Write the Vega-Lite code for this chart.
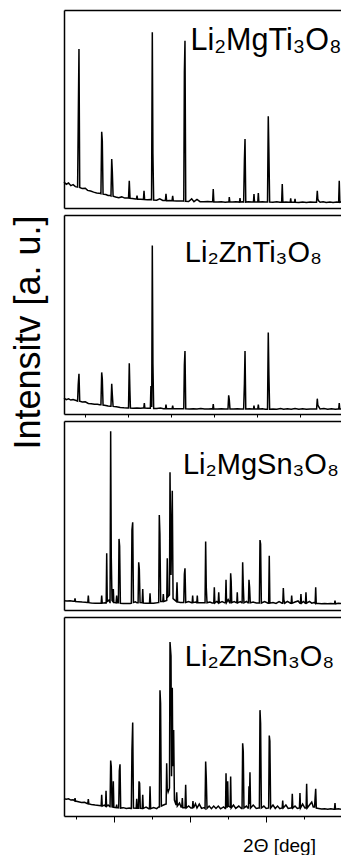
{
"$schema":"https://vega.github.io/schema/vega-lite/v6.json",
"background":"white",
"padding":{"left":9,"top":10,"right":0,"bottom":0},
"bounds":"flush",
"config":{"view":{"stroke":null},"axis":{"grid":false,"labels":false,"ticks":false,"domain":true,"domainColor":"black","domainWidth":1.5,"tickColor":"black","tickWidth":1,"titleFont":"Liberation Sans","titleColor":"black","titleFontWeight":"normal"}},
"datasets":{
"lab":[{"p":1,"label":"Li₂MgTi₃O₈","x":30.05,"y":79.8},{"p":2,"label":"Li₂ZnTi₃O₈","x":29.3,"y":76.4},{"p":3,"label":"Li₂MgSn₃O₈","x":29.05,"y":72},{"p":4,"label":"Li₂ZnSn₃O₈","x":29.3,"y":75.4}],
"xrd":[
{"p":1,"x":13.4,"y":13.1},{"p":1,"x":13.7,"y":12.0},{"p":1,"x":14.0,"y":12.6},{"p":1,"x":14.3,"y":11.3},{"p":1,"x":14.6,"y":11.8},{"p":1,"x":14.9,"y":10.8},{"p":1,"x":15.19,"y":10.6},{"p":1,"x":15.27,"y":41.4},{"p":1,"x":15.37,"y":80.3},{"p":1,"x":15.47,"y":10.4},{"p":1,"x":15.8,"y":9.8},{"p":1,"x":16.2,"y":10.0},{"p":1,"x":16.5,"y":8.9},{"p":1,"x":16.9,"y":8.6},{"p":1,"x":17.3,"y":8.0},{"p":1,"x":17.7,"y":7.6},{"p":1,"x":18.0,"y":7.5},{"p":1,"x":18.26,"y":7.2},{"p":1,"x":18.36,"y":38.5},{"p":1,"x":18.44,"y":34},{"p":1,"x":18.54,"y":7.0},{"p":1,"x":18.9,"y":6.8},{"p":1,"x":19.2,"y":6.3},{"p":1,"x":19.5,"y":6.3},{"p":1,"x":19.58,"y":6.1},{"p":1,"x":19.68,"y":24.7},{"p":1,"x":19.76,"y":18.2},{"p":1,"x":19.86,"y":6.0},{"p":1,"x":20.2,"y":5.6},{"p":1,"x":20.6,"y":5.2},{"p":1,"x":21.0,"y":5.6},{"p":1,"x":21.4,"y":5.0},{"p":1,"x":21.8,"y":5.1},{"p":1,"x":21.89,"y":5.0},{"p":1,"x":21.99,"y":13.8},{"p":1,"x":22.09,"y":4.9},{"p":1,"x":22.4,"y":4.8},{"p":1,"x":22.8,"y":4.5},{"p":1,"x":22.93,"y":4.5},{"p":1,"x":23.01,"y":6.2},{"p":1,"x":23.09,"y":4.4},{"p":1,"x":23.5,"y":4.4},{"p":1,"x":23.85,"y":4.3},{"p":1,"x":23.93,"y":8.7},{"p":1,"x":24.01,"y":4.3},{"p":1,"x":24.4,"y":4.2},{"p":1,"x":24.8,"y":4.3},{"p":1,"x":24.92,"y":4.2},{"p":1,"x":25.02,"y":88.7},{"p":1,"x":25.1,"y":27.3},{"p":1,"x":25.2,"y":4.0},{"p":1,"x":25.6,"y":3.9},{"p":1,"x":26.0,"y":4.6},{"p":1,"x":26.4,"y":3.8},{"p":1,"x":26.74,"y":3.8},{"p":1,"x":26.82,"y":7.1},{"p":1,"x":26.9,"y":3.7},{"p":1,"x":27.3,"y":3.8},{"p":1,"x":27.62,"y":3.7},{"p":1,"x":27.7,"y":6.2},{"p":1,"x":27.78,"y":3.6},{"p":1,"x":28.2,"y":3.5},{"p":1,"x":28.7,"y":3.5},{"p":1,"x":29.1,"y":3.6},{"p":1,"x":29.16,"y":3.5},{"p":1,"x":29.24,"y":68.5},{"p":1,"x":29.32,"y":84.5},{"p":1,"x":29.42,"y":3.4},{"p":1,"x":29.8,"y":3.3},{"p":1,"x":30.2,"y":4.6},{"p":1,"x":30.5,"y":3.2},{"p":1,"x":30.9,"y":4.3},{"p":1,"x":31.3,"y":3.2},{"p":1,"x":31.8,"y":3.2},{"p":1,"x":32.3,"y":3.3},{"p":1,"x":32.7,"y":3.1},{"p":1,"x":32.96,"y":3.1},{"p":1,"x":33.04,"y":9.6},{"p":1,"x":33.12,"y":3.0},{"p":1,"x":33.6,"y":3.0},{"p":1,"x":34.1,"y":3.1},{"p":1,"x":34.6,"y":2.9},{"p":1,"x":35.0,"y":3.0},{"p":1,"x":35.1,"y":3.0},{"p":1,"x":35.15,"y":5.5},{"p":1,"x":35.22,"y":3.0},{"p":1,"x":35.6,"y":3.0},{"p":1,"x":36.0,"y":3.2},{"p":1,"x":36.5,"y":3.0},{"p":1,"x":36.56,"y":5.0},{"p":1,"x":36.62,"y":3.0},{"p":1,"x":36.9,"y":3.1},{"p":1,"x":37.04,"y":3.0},{"p":1,"x":37.14,"y":24.2},{"p":1,"x":37.22,"y":34.8},{"p":1,"x":37.32,"y":3.0},{"p":1,"x":37.7,"y":3.2},{"p":1,"x":38.1,"y":3.0},{"p":1,"x":38.33,"y":3.0},{"p":1,"x":38.4,"y":7.1},{"p":1,"x":38.47,"y":3.0},{"p":1,"x":38.9,"y":3.0},{"p":1,"x":38.97,"y":7.6},{"p":1,"x":39.04,"y":3.0},{"p":1,"x":39.5,"y":3.1},{"p":1,"x":39.9,"y":3.0},{"p":1,"x":40.18,"y":3.0},{"p":1,"x":40.28,"y":46.3},{"p":1,"x":40.36,"y":28.6},{"p":1,"x":40.46,"y":3.0},{"p":1,"x":40.9,"y":2.9},{"p":1,"x":41.4,"y":3.1},{"p":1,"x":41.8,"y":2.9},{"p":1,"x":42.04,"y":2.9},{"p":1,"x":42.12,"y":12.1},{"p":1,"x":42.2,"y":2.9},{"p":1,"x":42.6,"y":3.0},{"p":1,"x":43.0,"y":2.9},{"p":1,"x":43.17,"y":2.9},{"p":1,"x":43.23,"y":4.9},{"p":1,"x":43.29,"y":2.9},{"p":1,"x":43.74,"y":2.9},{"p":1,"x":43.8,"y":4.6},{"p":1,"x":43.86,"y":2.9},{"p":1,"x":44.3,"y":2.8},{"p":1,"x":44.8,"y":3.0},{"p":1,"x":45.3,"y":2.8},{"p":1,"x":45.8,"y":3.0},{"p":1,"x":46.3,"y":2.9},{"p":1,"x":46.63,"y":2.9},{"p":1,"x":46.73,"y":8.7},{"p":1,"x":46.8,"y":4.5},{"p":1,"x":46.9,"y":3.6},{"p":1,"x":47.1,"y":2.9},{"p":1,"x":47.5,"y":3.2},{"p":1,"x":47.9,"y":2.8},{"p":1,"x":48.4,"y":3.0},{"p":1,"x":48.8,"y":2.8},{"p":1,"x":49.3,"y":3.0},{"p":1,"x":49.54,"y":2.9},{"p":1,"x":49.62,"y":13.8},{"p":1,"x":49.7,"y":2.9},{"p":1,"x":49.85,"y":3.0},
{"p":2,"x":13.4,"y":8.0},{"p":2,"x":13.7,"y":7.2},{"p":2,"x":14.0,"y":7.6},{"p":2,"x":14.3,"y":7.0},{"p":2,"x":14.6,"y":7.3},{"p":2,"x":15.0,"y":6.8},{"p":2,"x":15.19,"y":6.5},{"p":2,"x":15.27,"y":14.7},{"p":2,"x":15.37,"y":20.2},{"p":2,"x":15.47,"y":6.4},{"p":2,"x":15.8,"y":6.0},{"p":2,"x":16.2,"y":6.1},{"p":2,"x":16.6,"y":5.3},{"p":2,"x":17.0,"y":5.2},{"p":2,"x":17.4,"y":4.9},{"p":2,"x":17.8,"y":4.9},{"p":2,"x":18.1,"y":4.6},{"p":2,"x":18.26,"y":4.6},{"p":2,"x":18.36,"y":20.9},{"p":2,"x":18.44,"y":17.7},{"p":2,"x":18.54,"y":4.5},{"p":2,"x":18.9,"y":4.3},{"p":2,"x":19.2,"y":4.0},{"p":2,"x":19.5,"y":3.9},{"p":2,"x":19.58,"y":3.9},{"p":2,"x":19.68,"y":15.2},{"p":2,"x":19.76,"y":9.7},{"p":2,"x":19.86,"y":3.8},{"p":2,"x":20.3,"y":3.6},{"p":2,"x":20.8,"y":3.3},{"p":2,"x":21.3,"y":3.1},{"p":2,"x":21.7,"y":3.0},{"p":2,"x":21.89,"y":3.0},{"p":2,"x":21.99,"y":25.5},{"p":2,"x":22.07,"y":12},{"p":2,"x":22.14,"y":3.0},{"p":2,"x":22.5,"y":2.9},{"p":2,"x":23.0,"y":3.0},{"p":2,"x":23.5,"y":2.9},{"p":2,"x":23.8,"y":3.0},{"p":2,"x":23.9,"y":3.0},{"p":2,"x":23.97,"y":5.5},{"p":2,"x":24.04,"y":3.0},{"p":2,"x":24.4,"y":2.9},{"p":2,"x":24.7,"y":2.9},{"p":2,"x":24.76,"y":2.9},{"p":2,"x":24.84,"y":14.0},{"p":2,"x":24.94,"y":3.5},{"p":2,"x":25.02,"y":84.7},{"p":2,"x":25.1,"y":25.5},{"p":2,"x":25.2,"y":2.8},{"p":2,"x":25.6,"y":2.8},{"p":2,"x":26.1,"y":3.0},{"p":2,"x":26.5,"y":2.7},{"p":2,"x":26.75,"y":2.7},{"p":2,"x":26.82,"y":4.7},{"p":2,"x":26.89,"y":2.7},{"p":2,"x":27.63,"y":2.7},{"p":2,"x":27.7,"y":4.2},{"p":2,"x":27.77,"y":2.7},{"p":2,"x":28.2,"y":2.6},{"p":2,"x":28.7,"y":2.6},{"p":2,"x":29.1,"y":2.6},{"p":2,"x":29.16,"y":2.6},{"p":2,"x":29.24,"y":24.7},{"p":2,"x":29.32,"y":31.7},{"p":2,"x":29.42,"y":2.6},{"p":2,"x":29.9,"y":2.5},{"p":2,"x":30.4,"y":2.6},{"p":2,"x":30.9,"y":2.5},{"p":2,"x":31.4,"y":2.7},{"p":2,"x":31.9,"y":2.5},{"p":2,"x":32.4,"y":2.5},{"p":2,"x":32.8,"y":2.6},{"p":2,"x":32.97,"y":2.5},{"p":2,"x":33.04,"y":5.0},{"p":2,"x":33.11,"y":2.5},{"p":2,"x":33.6,"y":2.5},{"p":2,"x":34.1,"y":2.6},{"p":2,"x":34.6,"y":2.5},{"p":2,"x":34.9,"y":2.5},{"p":2,"x":34.98,"y":2.5},{"p":2,"x":35.07,"y":9.4},{"p":2,"x":35.15,"y":7.2},{"p":2,"x":35.24,"y":2.5},{"p":2,"x":35.7,"y":2.5},{"p":2,"x":36.2,"y":2.6},{"p":2,"x":36.7,"y":2.5},{"p":2,"x":36.95,"y":2.5},{"p":2,"x":37.04,"y":2.5},{"p":2,"x":37.14,"y":15.2},{"p":2,"x":37.22,"y":31.7},{"p":2,"x":37.32,"y":2.5},{"p":2,"x":37.8,"y":2.6},{"p":2,"x":38.2,"y":2.5},{"p":2,"x":38.34,"y":2.5},{"p":2,"x":38.4,"y":4.2},{"p":2,"x":38.46,"y":2.5},{"p":2,"x":38.9,"y":2.5},{"p":2,"x":38.97,"y":4.7},{"p":2,"x":39.04,"y":2.5},{"p":2,"x":39.5,"y":2.6},{"p":2,"x":39.9,"y":2.4},{"p":2,"x":40.18,"y":2.4},{"p":2,"x":40.28,"y":40.9},{"p":2,"x":40.36,"y":20.0},{"p":2,"x":40.46,"y":2.4},{"p":2,"x":40.9,"y":2.5},{"p":2,"x":41.4,"y":2.4},{"p":2,"x":41.9,"y":2.8},{"p":2,"x":42.3,"y":2.4},{"p":2,"x":42.8,"y":2.6},{"p":2,"x":43.3,"y":2.4},{"p":2,"x":43.8,"y":2.8},{"p":2,"x":44.3,"y":2.4},{"p":2,"x":44.8,"y":2.6},{"p":2,"x":45.3,"y":2.4},{"p":2,"x":45.8,"y":2.5},{"p":2,"x":46.3,"y":2.5},{"p":2,"x":46.64,"y":2.5},{"p":2,"x":46.73,"y":7.7},{"p":2,"x":46.8,"y":4.5},{"p":2,"x":46.95,"y":3.5},{"p":2,"x":47.1,"y":2.5},{"p":2,"x":47.6,"y":2.7},{"p":2,"x":48.1,"y":2.4},{"p":2,"x":48.6,"y":2.6},{"p":2,"x":49.1,"y":2.4},{"p":2,"x":49.45,"y":2.5},{"p":2,"x":49.55,"y":2.5},{"p":2,"x":49.62,"y":5.5},{"p":2,"x":49.69,"y":2.5},{"p":2,"x":49.85,"y":2.5},
{"p":3,"x":13.4,"y":4.9},{"p":3,"x":13.8,"y":4.7},{"p":3,"x":14.2,"y":4.9},{"p":3,"x":14.6,"y":4.6},{"p":3,"x":14.78,"y":4.6},{"p":3,"x":14.85,"y":6.2},{"p":3,"x":14.92,"y":4.5},{"p":3,"x":15.3,"y":4.4},{"p":3,"x":15.8,"y":4.2},{"p":3,"x":16.2,"y":4.1},{"p":3,"x":16.45,"y":4.0},{"p":3,"x":16.53,"y":4.0},{"p":3,"x":16.6,"y":7.6},{"p":3,"x":16.67,"y":3.9},{"p":3,"x":17.0,"y":3.7},{"p":3,"x":17.5,"y":3.6},{"p":3,"x":18.0,"y":3.6},{"p":3,"x":18.25,"y":3.6},{"p":3,"x":18.29,"y":3.6},{"p":3,"x":18.36,"y":7.6},{"p":3,"x":18.43,"y":3.6},{"p":3,"x":18.8,"y":3.8},{"p":3,"x":18.93,"y":3.6},{"p":3,"x":18.95,"y":3.7},{"p":3,"x":19.02,"y":30.0},{"p":3,"x":19.09,"y":4.5},{"p":3,"x":19.3,"y":5.2},{"p":3,"x":19.45,"y":4.0},{"p":3,"x":19.46,"y":4.0},{"p":3,"x":19.54,"y":94.6},{"p":3,"x":19.62,"y":27.9},{"p":3,"x":19.72,"y":5.0},{"p":3,"x":19.82,"y":4.5},{"p":3,"x":19.89,"y":11.1},{"p":3,"x":19.96,"y":4.0},{"p":3,"x":20.25,"y":3.8},{"p":3,"x":20.33,"y":7.6},{"p":3,"x":20.4,"y":3.8},{"p":3,"x":20.56,"y":3.8},{"p":3,"x":20.64,"y":37.6},{"p":3,"x":20.72,"y":33.7},{"p":3,"x":20.82,"y":3.6},{"p":3,"x":21.2,"y":3.5},{"p":3,"x":21.7,"y":3.5},{"p":3,"x":22.1,"y":3.5},{"p":3,"x":22.26,"y":3.6},{"p":3,"x":22.34,"y":42.3},{"p":3,"x":22.44,"y":46.4},{"p":3,"x":22.54,"y":4.0},{"p":3,"x":22.8,"y":4.3},{"p":3,"x":23.0,"y":3.8},{"p":3,"x":23.15,"y":3.8},{"p":3,"x":23.23,"y":25.2},{"p":3,"x":23.31,"y":21.7},{"p":3,"x":23.41,"y":4.0},{"p":3,"x":23.69,"y":3.9},{"p":3,"x":23.76,"y":11.1},{"p":3,"x":23.83,"y":3.7},{"p":3,"x":24.2,"y":3.6},{"p":3,"x":24.55,"y":3.6},{"p":3,"x":24.65,"y":3.6},{"p":3,"x":24.72,"y":8.8},{"p":3,"x":24.79,"y":3.6},{"p":3,"x":25.2,"y":3.6},{"p":3,"x":25.6,"y":3.8},{"p":3,"x":25.8,"y":4.0},{"p":3,"x":25.86,"y":4.0},{"p":3,"x":25.94,"y":50.3},{"p":3,"x":26.02,"y":40.2},{"p":3,"x":26.12,"y":4.5},{"p":3,"x":26.4,"y":4.5},{"p":3,"x":26.47,"y":8.5},{"p":3,"x":26.54,"y":4.5},{"p":3,"x":26.92,"y":5.0},{"p":3,"x":26.99,"y":27.4},{"p":3,"x":27.07,"y":7.0},{"p":3,"x":27.28,"y":8.0},{"p":3,"x":27.35,"y":72.9},{"p":3,"x":27.48,"y":18.5},{"p":3,"x":27.65,"y":63.1},{"p":3,"x":27.75,"y":6.0},{"p":3,"x":28.18,"y":4.5},{"p":3,"x":28.27,"y":14.7},{"p":3,"x":28.35,"y":4.3},{"p":3,"x":28.7,"y":4.0},{"p":3,"x":29.1,"y":4.0},{"p":3,"x":29.16,"y":4.0},{"p":3,"x":29.24,"y":19.0},{"p":3,"x":29.32,"y":22.1},{"p":3,"x":29.42,"y":4.0},{"p":3,"x":29.8,"y":4.5},{"p":3,"x":30.2,"y":3.9},{"p":3,"x":30.27,"y":3.9},{"p":3,"x":30.33,"y":7.6},{"p":3,"x":30.39,"y":3.9},{"p":3,"x":30.7,"y":4.2},{"p":3,"x":30.85,"y":3.9},{"p":3,"x":30.88,"y":3.9},{"p":3,"x":30.94,"y":7.6},{"p":3,"x":31.0,"y":3.9},{"p":3,"x":31.4,"y":3.8},{"p":3,"x":31.85,"y":3.8},{"p":3,"x":31.96,"y":3.8},{"p":3,"x":32.04,"y":36.3},{"p":3,"x":32.12,"y":12.0},{"p":3,"x":32.22,"y":3.8},{"p":3,"x":32.6,"y":4.2},{"p":3,"x":32.9,"y":3.7},{"p":3,"x":33.11,"y":3.7},{"p":3,"x":33.18,"y":12.0},{"p":3,"x":33.25,"y":3.7},{"p":3,"x":33.5,"y":4.5},{"p":3,"x":33.69,"y":3.8},{"p":3,"x":33.76,"y":9.4},{"p":3,"x":33.83,"y":3.8},{"p":3,"x":34.2,"y":4.5},{"p":3,"x":34.55,"y":3.8},{"p":3,"x":34.65,"y":3.8},{"p":3,"x":34.72,"y":16.0},{"p":3,"x":34.79,"y":4.0},{"p":3,"x":35.0,"y":5.5},{"p":3,"x":35.2,"y":3.9},{"p":3,"x":35.26,"y":3.9},{"p":3,"x":35.33,"y":19.4},{"p":3,"x":35.4,"y":15.0},{"p":3,"x":35.47,"y":3.9},{"p":3,"x":35.8,"y":4.5},{"p":3,"x":36.1,"y":3.8},{"p":3,"x":36.14,"y":3.8},{"p":3,"x":36.2,"y":9.4},{"p":3,"x":36.26,"y":3.8},{"p":3,"x":36.6,"y":4.4},{"p":3,"x":36.8,"y":3.8},{"p":3,"x":36.84,"y":3.8},{"p":3,"x":36.91,"y":25.2},{"p":3,"x":36.99,"y":12.9},{"p":3,"x":37.08,"y":3.8},{"p":3,"x":37.4,"y":4.5},{"p":3,"x":37.6,"y":3.8},{"p":3,"x":37.67,"y":3.8},{"p":3,"x":37.74,"y":16.0},{"p":3,"x":37.82,"y":12.0},{"p":3,"x":37.91,"y":3.8},{"p":3,"x":38.3,"y":4.2},{"p":3,"x":38.7,"y":3.7},{"p":3,"x":39.0,"y":3.7},{"p":3,"x":39.11,"y":3.7},{"p":3,"x":39.19,"y":37.0},{"p":3,"x":39.27,"y":34.9},{"p":3,"x":39.37,"y":3.7},{"p":3,"x":39.8,"y":4.5},{"p":3,"x":40.25,"y":3.6},{"p":3,"x":40.33,"y":3.6},{"p":3,"x":40.41,"y":28.7},{"p":3,"x":40.49,"y":3.6},{"p":3,"x":40.9,"y":3.9},{"p":3,"x":41.3,"y":3.5},{"p":3,"x":41.7,"y":4.4},{"p":3,"x":42.1,"y":3.6},{"p":3,"x":42.19,"y":3.6},{"p":3,"x":42.26,"y":11.6},{"p":3,"x":42.33,"y":5.5},{"p":3,"x":42.45,"y":3.6},{"p":3,"x":42.8,"y":4.6},{"p":3,"x":43.2,"y":3.6},{"p":3,"x":43.29,"y":3.6},{"p":3,"x":43.36,"y":7.6},{"p":3,"x":43.43,"y":3.6},{"p":3,"x":43.8,"y":4.2},{"p":3,"x":44.2,"y":4.8},{"p":3,"x":44.45,"y":3.6},{"p":3,"x":44.51,"y":3.6},{"p":3,"x":44.58,"y":8.5},{"p":3,"x":44.65,"y":3.6},{"p":3,"x":44.9,"y":4.5},{"p":3,"x":45.15,"y":3.6},{"p":3,"x":45.17,"y":3.6},{"p":3,"x":45.24,"y":9.4},{"p":3,"x":45.31,"y":3.6},{"p":3,"x":45.7,"y":4.6},{"p":3,"x":46.0,"y":3.6},{"p":3,"x":46.35,"y":4.0},{"p":3,"x":46.45,"y":3.6},{"p":3,"x":46.52,"y":12.0},{"p":3,"x":46.59,"y":3.6},{"p":3,"x":46.9,"y":3.5},{"p":3,"x":47.3,"y":3.3},{"p":3,"x":47.7,"y":3.4},{"p":3,"x":48.1,"y":3.3},{"p":3,"x":48.5,"y":3.5},{"p":3,"x":48.9,"y":3.3},{"p":3,"x":48.99,"y":3.3},{"p":3,"x":49.06,"y":5.0},{"p":3,"x":49.13,"y":3.3},{"p":3,"x":49.5,"y":3.6},{"p":3,"x":49.85,"y":3.4},
{"p":4,"x":13.4,"y":8.7},{"p":4,"x":13.7,"y":8.4},{"p":4,"x":14.0,"y":8.6},{"p":4,"x":14.3,"y":8.0},{"p":4,"x":14.6,"y":8.2},{"p":4,"x":14.8,"y":7.6},{"p":4,"x":14.85,"y":9.0},{"p":4,"x":14.92,"y":7.5},{"p":4,"x":15.3,"y":7.2},{"p":4,"x":15.7,"y":6.8},{"p":4,"x":16.1,"y":6.9},{"p":4,"x":16.45,"y":6.3},{"p":4,"x":16.53,"y":6.2},{"p":4,"x":16.6,"y":8.5},{"p":4,"x":16.67,"y":6.1},{"p":4,"x":17.0,"y":5.8},{"p":4,"x":17.5,"y":5.5},{"p":4,"x":18.0,"y":5.3},{"p":4,"x":18.25,"y":5.2},{"p":4,"x":18.29,"y":5.2},{"p":4,"x":18.36,"y":10.7},{"p":4,"x":18.43,"y":5.0},{"p":4,"x":18.7,"y":5.5},{"p":4,"x":18.85,"y":4.9},{"p":4,"x":18.87,"y":4.9},{"p":4,"x":18.93,"y":12.7},{"p":4,"x":19.0,"y":4.8},{"p":4,"x":19.2,"y":5.5},{"p":4,"x":19.45,"y":4.6},{"p":4,"x":19.46,"y":4.6},{"p":4,"x":19.54,"y":27.9},{"p":4,"x":19.62,"y":24.9},{"p":4,"x":19.72,"y":4.6},{"p":4,"x":19.82,"y":4.5},{"p":4,"x":19.89,"y":17.4},{"p":4,"x":19.96,"y":4.4},{"p":4,"x":20.27,"y":4.2},{"p":4,"x":20.33,"y":5.7},{"p":4,"x":20.39,"y":4.2},{"p":4,"x":20.6,"y":4.1},{"p":4,"x":20.68,"y":22.7},{"p":4,"x":20.77,"y":26.0},{"p":4,"x":20.86,"y":4.0},{"p":4,"x":21.2,"y":4.2},{"p":4,"x":21.6,"y":3.8},{"p":4,"x":22.0,"y":4.0},{"p":4,"x":22.2,"y":3.8},{"p":4,"x":22.26,"y":3.8},{"p":4,"x":22.34,"y":32.9},{"p":4,"x":22.44,"y":47.0},{"p":4,"x":22.54,"y":4.0},{"p":4,"x":22.9,"y":3.9},{"p":4,"x":22.97,"y":8.7},{"p":4,"x":23.04,"y":3.9},{"p":4,"x":23.2,"y":3.9},{"p":4,"x":23.27,"y":17.4},{"p":4,"x":23.35,"y":16.5},{"p":4,"x":23.44,"y":3.9},{"p":4,"x":23.69,"y":3.8},{"p":4,"x":23.76,"y":10.7},{"p":4,"x":23.83,"y":3.8},{"p":4,"x":24.2,"y":4.5},{"p":4,"x":24.55,"y":3.7},{"p":4,"x":24.65,"y":3.7},{"p":4,"x":24.72,"y":14.9},{"p":4,"x":24.8,"y":3.7},{"p":4,"x":25.2,"y":4.2},{"p":4,"x":25.6,"y":3.7},{"p":4,"x":25.85,"y":4.5},{"p":4,"x":25.95,"y":4.5},{"p":4,"x":26.03,"y":63.2},{"p":4,"x":26.11,"y":56.5},{"p":4,"x":26.21,"y":5.0},{"p":4,"x":26.5,"y":5.5},{"p":4,"x":26.8,"y":6.0},{"p":4,"x":26.84,"y":6.0},{"p":4,"x":26.91,"y":26.5},{"p":4,"x":26.98,"y":14.0},{"p":4,"x":27.1,"y":12.0},{"p":4,"x":27.28,"y":14.0},{"p":4,"x":27.35,"y":87.4},{"p":4,"x":27.48,"y":80.4},{"p":4,"x":27.55,"y":20.0},{"p":4,"x":27.65,"y":64.5},{"p":4,"x":27.72,"y":25.0},{"p":4,"x":27.83,"y":43.2},{"p":4,"x":27.93,"y":8.0},{"p":4,"x":28.15,"y":5.5},{"p":4,"x":28.23,"y":11.9},{"p":4,"x":28.31,"y":5.0},{"p":4,"x":28.6,"y":6.5},{"p":4,"x":28.8,"y":4.5},{"p":4,"x":28.9,"y":4.5},{"p":4,"x":28.97,"y":9.0},{"p":4,"x":29.04,"y":4.2},{"p":4,"x":29.33,"y":4.2},{"p":4,"x":29.41,"y":15.7},{"p":4,"x":29.49,"y":4.0},{"p":4,"x":29.8,"y":5.0},{"p":4,"x":30.1,"y":4.0},{"p":4,"x":30.3,"y":4.0},{"p":4,"x":30.37,"y":7.5},{"p":4,"x":30.44,"y":4.0},{"p":4,"x":30.7,"y":6.2},{"p":4,"x":30.9,"y":4.0},{"p":4,"x":31.2,"y":6.0},{"p":4,"x":31.5,"y":3.8},{"p":4,"x":31.85,"y":4.2},{"p":4,"x":31.96,"y":3.8},{"p":4,"x":32.04,"y":27.4},{"p":4,"x":32.12,"y":19.4},{"p":4,"x":32.22,"y":3.8},{"p":4,"x":32.5,"y":5.0},{"p":4,"x":32.8,"y":3.7},{"p":4,"x":33.1,"y":5.0},{"p":4,"x":33.4,"y":3.8},{"p":4,"x":33.7,"y":5.0},{"p":4,"x":34.0,"y":3.6},{"p":4,"x":34.4,"y":4.6},{"p":4,"x":34.6,"y":3.8},{"p":4,"x":34.66,"y":3.8},{"p":4,"x":34.72,"y":21.5},{"p":4,"x":34.8,"y":4.5},{"p":4,"x":34.88,"y":4.5},{"p":4,"x":34.94,"y":17.4},{"p":4,"x":35.01,"y":5.0},{"p":4,"x":35.26,"y":4.5},{"p":4,"x":35.33,"y":19.9},{"p":4,"x":35.4,"y":4.0},{"p":4,"x":35.7,"y":5.5},{"p":4,"x":36.0,"y":3.8},{"p":4,"x":36.4,"y":5.0},{"p":4,"x":36.75,"y":3.8},{"p":4,"x":36.83,"y":3.8},{"p":4,"x":36.91,"y":36.5},{"p":4,"x":36.99,"y":32.4},{"p":4,"x":37.08,"y":4.0},{"p":4,"x":37.4,"y":5.0},{"p":4,"x":37.6,"y":4.0},{"p":4,"x":37.68,"y":4.0},{"p":4,"x":37.74,"y":14.9},{"p":4,"x":37.8,"y":6.0},{"p":4,"x":37.87,"y":22.0},{"p":4,"x":37.95,"y":4.0},{"p":4,"x":38.3,"y":5.5},{"p":4,"x":38.7,"y":3.8},{"p":4,"x":39.0,"y":4.0},{"p":4,"x":39.11,"y":4.0},{"p":4,"x":39.19,"y":53.2},{"p":4,"x":39.27,"y":46.5},{"p":4,"x":39.37,"y":4.0},{"p":4,"x":39.7,"y":5.0},{"p":4,"x":40.0,"y":3.8},{"p":4,"x":40.25,"y":4.0},{"p":4,"x":40.33,"y":4.0},{"p":4,"x":40.41,"y":40.4},{"p":4,"x":40.49,"y":37.7},{"p":4,"x":40.59,"y":4.0},{"p":4,"x":40.9,"y":5.5},{"p":4,"x":41.2,"y":3.8},{"p":4,"x":41.5,"y":5.0},{"p":4,"x":41.8,"y":3.7},{"p":4,"x":42.05,"y":4.0},{"p":4,"x":42.11,"y":4.0},{"p":4,"x":42.18,"y":7.7},{"p":4,"x":42.25,"y":4.0},{"p":4,"x":42.6,"y":5.5},{"p":4,"x":42.9,"y":3.8},{"p":4,"x":43.25,"y":4.0},{"p":4,"x":43.37,"y":4.0},{"p":4,"x":43.44,"y":11.2},{"p":4,"x":43.51,"y":4.0},{"p":4,"x":43.8,"y":5.0},{"p":4,"x":44.1,"y":3.8},{"p":4,"x":44.3,"y":4.0},{"p":4,"x":44.38,"y":4.0},{"p":4,"x":44.45,"y":11.5},{"p":4,"x":44.52,"y":4.0},{"p":4,"x":44.8,"y":6.0},{"p":4,"x":45.1,"y":4.0},{"p":4,"x":45.2,"y":4.0},{"p":4,"x":45.26,"y":4.0},{"p":4,"x":45.33,"y":16.2},{"p":4,"x":45.4,"y":4.0},{"p":4,"x":45.7,"y":5.5},{"p":4,"x":46.0,"y":7.0},{"p":4,"x":46.2,"y":4.5},{"p":4,"x":46.37,"y":4.5},{"p":4,"x":46.44,"y":9.0},{"p":4,"x":46.52,"y":13.7},{"p":4,"x":46.6,"y":4.0},{"p":4,"x":46.9,"y":3.8},{"p":4,"x":47.3,"y":3.5},{"p":4,"x":47.7,"y":3.6},{"p":4,"x":48.1,"y":3.4},{"p":4,"x":48.5,"y":3.6},{"p":4,"x":48.9,"y":3.4},{"p":4,"x":48.99,"y":3.4},{"p":4,"x":49.06,"y":6.5},{"p":4,"x":49.13,"y":3.4},{"p":4,"x":49.5,"y":3.6},{"p":4,"x":49.85,"y":3.4}
]},
"spacing":7,
"vconcat":[
{"width":277,"height":198,"resolve":{"axis":{"x":"independent"}},"layer":[
 {"data":{"name":"xrd"},"transform":[{"filter":"datum.p == 1"}],"mark":{"type":"line","color":"black","strokeWidth":1.5},
  "encoding":{"x":{"field":"x","type":"quantitative","scale":{"domain":[13.4,49.85],"nice":false,"zero":false},"axis":{"orient":"bottom","title":null}},
   "y":{"field":"y","type":"quantitative","scale":{"domain":[0,100],"nice":false},"axis":{"title":null}}}},
 {"data":{"name":"lab"},"transform":[{"filter":"datum.p == 1"}],"mark":{"type":"text","align":"left","baseline":"alphabetic","font":"Liberation Sans","fontSize":30.5,"color":"black"},
  "encoding":{"x":{"field":"x","type":"quantitative","axis":{"orient":"top","title":null}},"y":{"field":"y","type":"quantitative","axis":{"title":null}},"text":{"field":"label"}}}
]},
{"width":277,"height":199,"resolve":{"axis":{"x":"independent"}},"layer":[
 {"data":{"name":"xrd"},"transform":[{"filter":"datum.p == 2"}],"mark":{"type":"line","color":"black","strokeWidth":1.5},
  "encoding":{"x":{"field":"x","type":"quantitative","scale":{"domain":[13.4,49.85],"nice":false,"zero":false},"axis":{"orient":"bottom","title":null,"ticks":true,"tickSize":3,"values":[16.2,21.8,27.5,33.1,38.8,44.4]}},
   "y":{"field":"y","type":"quantitative","scale":{"domain":[0,100],"nice":false},"axis":{"title":"Intensitv [a. u.]","titleFontSize":36,"titleX":-25,"titleY":117,"titleAngle":270,"titleAlign":"center","titleBaseline":"alphabetic"}}}},
 {"data":{"name":"lab"},"transform":[{"filter":"datum.p == 2"}],"mark":{"type":"text","align":"left","baseline":"alphabetic","font":"Liberation Sans","fontSize":29,"color":"black"},
  "encoding":{"x":{"field":"x","type":"quantitative","axis":{"orient":"top","title":null}},"y":{"field":"y","type":"quantitative","axis":{"title":"Intensitv [a. u.]","titleFontSize":36,"titleX":-25,"titleY":117,"titleAngle":270,"titleAlign":"center","titleBaseline":"alphabetic"}},"text":{"field":"label"}}}
]},
{"width":277,"height":189,"resolve":{"axis":{"x":"independent"}},"layer":[
 {"data":{"name":"xrd"},"transform":[{"filter":"datum.p == 3"}],"mark":{"type":"line","color":"black","strokeWidth":1.5},
  "encoding":{"x":{"field":"x","type":"quantitative","scale":{"domain":[13.4,49.85],"nice":false,"zero":false},"axis":{"orient":"bottom","title":null}},
   "y":{"field":"y","type":"quantitative","scale":{"domain":[0,100],"nice":false},"axis":{"title":null}}}},
 {"data":{"name":"lab"},"transform":[{"filter":"datum.p == 3"}],"mark":{"type":"text","align":"left","baseline":"alphabetic","font":"Liberation Sans","fontSize":29,"color":"black"},
  "encoding":{"x":{"field":"x","type":"quantitative","axis":{"orient":"top","title":null}},"y":{"field":"y","type":"quantitative","axis":{"title":null}},"text":{"field":"label"}}}
]},
{"width":277,"height":199,"resolve":{"axis":{"x":"independent"}},"layer":[
 {"data":{"name":"xrd"},"transform":[{"filter":"datum.p == 4"}],"mark":{"type":"line","color":"black","strokeWidth":1.5},
  "encoding":{"x":{"field":"x","type":"quantitative","scale":{"domain":[13.4,49.85],"nice":false,"zero":false},"axis":{"orient":"bottom","title":"2Θ [deg]","ticks":true,"values":[15,20,25,30,35,40,45],"tickSize":{"condition":{"test":"datum.value % 10 === 0","value":6},"value":3},"titleFontSize":19,"titleX":215,"titleY":35,"titleAlign":"center","titleBaseline":"alphabetic"}},
   "y":{"field":"y","type":"quantitative","scale":{"domain":[0,100],"nice":false},"axis":{"title":null}}}},
 {"data":{"name":"lab"},"transform":[{"filter":"datum.p == 4"}],"mark":{"type":"text","align":"left","baseline":"alphabetic","font":"Liberation Sans","fontSize":29,"color":"black"},
  "encoding":{"x":{"field":"x","type":"quantitative","axis":{"orient":"top","title":null}},"y":{"field":"y","type":"quantitative","axis":{"title":null}},"text":{"field":"label"}}}
]}
]
}
